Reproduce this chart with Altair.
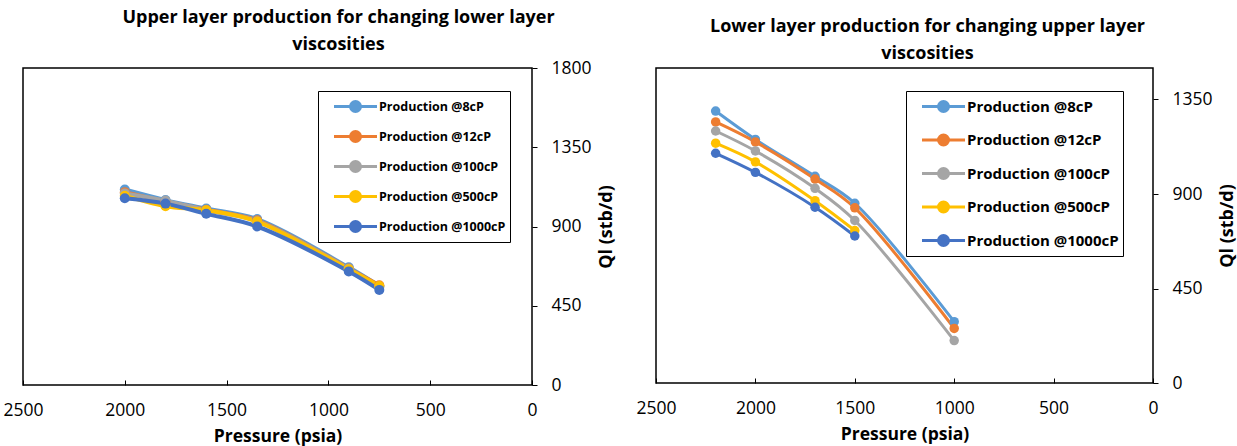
import altair as alt
import pandas as pd

# ---------------- data ----------------
series = ["Production @8cP", "Production @12cP", "Production @100cP",
          "Production @500cP", "Production @1000cP"]
colors = ["#5B9BD5", "#ED7D31", "#A5A5A5", "#FFC000", "#4472C4"]

# Upper layer production (left panel)
upper_pressure = [2000, 1800, 1600, 1350, 900, 750]
upper_8cp = [1110, 1050, 1002, 942, 668, 562]
upper_12cp = [1095, 1042, 995, 935, 662, 566]
upper_100cp = [1088, 1047, 992, 930, 660, 556]
upper_500cp = [1075, 1015, 992, 928, 657, 562]
upper_1000cp = [1060, 1030, 972, 900, 645, 540]

# Lower layer production (right panel)
lower_pressure = [2200, 2000, 1700, 1500, 1000]
lower_8cp = [1295, 1160, 984, 856, 292]
lower_12cp = [1243, 1148, 971, 834, 260]
lower_100cp = [1200, 1105, 927, 774, 202]
lower_500cp = [1142, 1053, 868, 726, None]
lower_1000cp = [1094, 1003, 837, 700, None]

x_ticks = [0, 500, 1000, 1500, 2000, 2500]
left_y_ticks = [0, 450, 900, 1350, 1800]
right_y_ticks = [0, 450, 900, 1350]


def build(pressures, table):
    rows = []
    for name, vals in zip(series, table):
        for p, v in zip(pressures, vals):
            if v is not None:
                rows.append({"Pressure": p, "Ql": v, "Series": name})
    return pd.DataFrame(rows)


upper_df = build(upper_pressure, [upper_8cp, upper_12cp, upper_100cp, upper_500cp, upper_1000cp])
lower_df = build(lower_pressure, [lower_8cp, lower_12cp, lower_100cp, lower_500cp, lower_1000cp])

FONT = "Open Sans"
SYMBOL = ("M-2.15,0L2.15,0"
          "M-0.5,0A0.5,0.5,0,1,1,0.5,0A0.5,0.5,0,1,1,-0.5,0"
          "M-0.25,0A0.25,0.25,0,1,1,0.25,0A0.25,0.25,0,1,1,-0.25,0"
          "M-0.05,0A0.05,0.05,0,1,1,0.05,0A0.05,0.05,0,1,1,-0.05,0")


def panel(df, title_lines, y_max, y_ticks, w, h, title_dx, lx, ly, lfont, lrow, stroke_w, pt_size):
    legend = alt.Legend(
        title=None, orient="none", legendX=lx, legendY=ly,
        symbolType=SYMBOL, symbolSize=400, symbolStrokeWidth=3,
        labelFont=FONT, labelFontSize=lfont, labelFontWeight="bold",
        labelColor="black", labelLimit=300,
        strokeColor="black", fillColor="white", padding=4,
        rowPadding=lrow, symbolOffset=22, labelOffset=12,
    )
    return alt.Chart(df).mark_line(
        interpolate="catmull-rom", strokeWidth=stroke_w,
        point=alt.OverlayMarkDef(filled=True, size=pt_size, opacity=1),
    ).encode(
        x=alt.X("Pressure:Q",
                scale=alt.Scale(domain=[0, 2500], reverse=True, nice=False),
                axis=alt.Axis(values=x_ticks, title="Pressure (psia)", grid=False,
                              domain=False, offset=-5, tickSize=5, tickColor="black",
                              labelFlush=False,
                              labelPadding=16, labelFontSize=17.5, labelFont=FONT,
                              labelColor="black", titleFont=FONT, titleFontSize=17.5,
                              titleFontWeight="bold", titleColor="black", titlePadding=9,
                              format="d")),
        y=alt.Y("Ql:Q",
                scale=alt.Scale(domain=[0, y_max], nice=False),
                axis=alt.Axis(orient="right", values=y_ticks, title="Ql (stb/d)",
                              grid=False, domain=False, tickSize=5, tickColor="black",
                              labelFlush=False,
                              labelPadding=14, labelFontSize=17.5, labelFont=FONT,
                              labelColor="black", titleFont=FONT, titleFontSize=18,
                              titleFontWeight="bold", titleColor="black",
                              titleAngle=270, titlePadding=24, format="d")),
        color=alt.Color("Series:N", scale=alt.Scale(domain=series, range=colors),
                        sort=series, legend=legend),
    ).properties(
        width=w, height=h,
        title=alt.TitleParams(text=title_lines, font=FONT, fontSize=18, fontWeight="bold",
                              color="black", anchor="middle", dx=title_dx,
                              lineHeight=27, offset=5),
    )


left = panel(upper_df,
             ["Upper layer production  for changing lower layer", "viscosities"],
             1800, left_y_ticks, 509, 317, 61, 295, 23, 12.5, 7, 4, 100)
right = panel(lower_df,
              ["Lower layer production for changing upper layer", "viscosities"],
              1500, right_y_ticks, 497, 315, 23, 250, 23, 15, 10.5, 3, 90)

chart = alt.hconcat(left, right, spacing=19).resolve_scale(
    color="independent").resolve_legend(color="independent").properties(
    padding={"left": 2, "top": 8, "right": 0, "bottom": 0}
).configure_view(stroke="black", strokeWidth=1.5)

chart.save("out.html", embed_options={"renderer": "svg", "actions": False})
